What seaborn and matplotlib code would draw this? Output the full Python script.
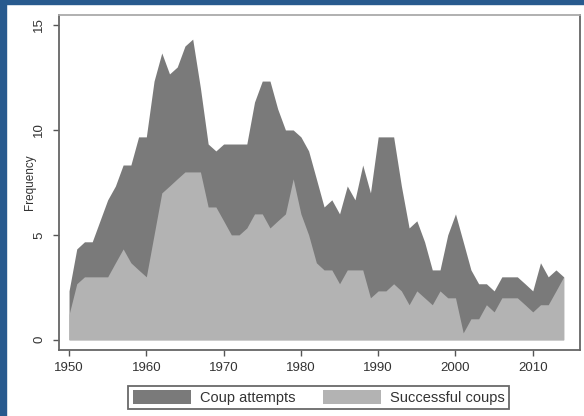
import numpy as np
import pandas as pd
import seaborn as sns
import matplotlib.pyplot as plt
from matplotlib.patches import Patch, Rectangle

# Values (3-year averages per year)
years = list(range(1950, 2015))
coup_attempts = [2.33, 4.33, 4.67, 4.67, 5.67, 6.67, 7.33, 8.33, 8.33, 9.67,
                 9.67, 12.33, 13.67, 12.67, 13.0, 14.0, 14.33, 12.0, 9.33, 9.0,
                 9.33, 9.33, 9.33, 9.33, 11.33, 12.33, 12.33, 11.0, 10.0, 10.0,
                 9.67, 9.0, 7.67, 6.33, 6.67, 6.0, 7.33, 6.67, 8.33, 7.0,
                 9.67, 9.67, 9.67, 7.33, 5.33, 5.67, 4.67, 3.33, 3.33, 5.0,
                 6.0, 4.67, 3.33, 2.67, 2.67, 2.33, 3.0, 3.0, 3.0, 2.67,
                 2.33, 3.67, 3.0, 3.33, 3.0]
successful_coups = [1.2, 2.67, 3.0, 3.0, 3.0, 3.0, 3.67, 4.33, 3.67, 3.33,
                    3.0, 5.0, 7.0, 7.33, 7.67, 8.0, 8.0, 8.0, 6.33, 6.33,
                    5.67, 5.0, 5.0, 5.33, 6.0, 6.0, 5.33, 5.67, 6.0, 7.67,
                    6.0, 5.0, 3.67, 3.33, 3.33, 2.67, 3.33, 3.33, 3.33, 2.0,
                    2.33, 2.33, 2.67, 2.33, 1.67, 2.33, 2.0, 1.67, 2.33, 2.0,
                    2.0, 0.33, 1.0, 1.0, 1.67, 1.33, 2.0, 2.0, 2.0, 1.67,
                    1.33, 1.67, 1.67, 2.33, 3.0]
series_labels = ["Coup attempts", "Successful coups"]
series_colors = ["#7a7a7a", "#b3b3b3"]

df = pd.DataFrame({"year": years,
                   series_labels[0]: coup_attempts,
                   series_labels[1]: successful_coups})

sns.set_theme(style="white")
plt.rcParams['font.family'] = ['Liberation Sans', 'DejaVu Sans']

fig = plt.figure(figsize=(5.84, 4.16), dpi=100, facecolor="white")
ax = fig.add_axes([0.101, 0.159, 0.892, 0.805])

# blue frame strips (top and left)
fig.patches.append(Rectangle((0, 0.99), 1, 0.01, transform=fig.transFigure,
                             color="#285a8e", zorder=0))
fig.patches.append(Rectangle((0, 0), 0.0103, 1, transform=fig.transFigure,
                             color="#285a8e", zorder=0))

for name, color in zip(series_labels, series_colors):
    sns.lineplot(data=df, x="year", y=name, ax=ax, color=color, linewidth=0)
    ax.fill_between(df["year"], 0, df[name], color=color, linewidth=0)

ax.set_xlim(1948.7, 2016.1)
ax.set_ylim(-0.48, 15.48)
ax.set_xticks(range(1950, 2011, 10))
ax.set_yticks([0, 5, 10, 15])
ax.set_xlabel("")
ax.set_ylabel("Frequency", fontsize=8.5, color="#333333", labelpad=-2)

ax.tick_params(axis="both", which="both", direction="out", length=4,
               width=1, color="#555555", labelcolor="#333333", labelsize=9.5)
ax.tick_params(axis="x", pad=5, bottom=True)
ax.tick_params(axis="y", pad=6, left=True)
for lab in ax.get_yticklabels():
    lab.set_rotation(90)
    lab.set_va("center")

for side in ["left", "bottom", "top", "right"]:
    ax.spines[side].set_color("#666666")
    ax.spines[side].set_linewidth(1.3)
ax.spines["top"].set_color("#aaaaaa")

handles = [Patch(facecolor=c, edgecolor="none") for c in series_colors]
leg = fig.legend(handles, series_labels, loc="center", bbox_to_anchor=(0.546, 0.0445),
                 ncol=2, fontsize=10.5, frameon=True, fancybox=False,
                 handlelength=4.0, handleheight=1.1, handletextpad=0.6,
                 columnspacing=1.9, borderpad=0.3, labelcolor="#333333")
leg.get_frame().set_edgecolor("#444444")
leg.get_frame().set_linewidth(1.3)

fig.savefig("out.png", dpi=100, facecolor="white")
